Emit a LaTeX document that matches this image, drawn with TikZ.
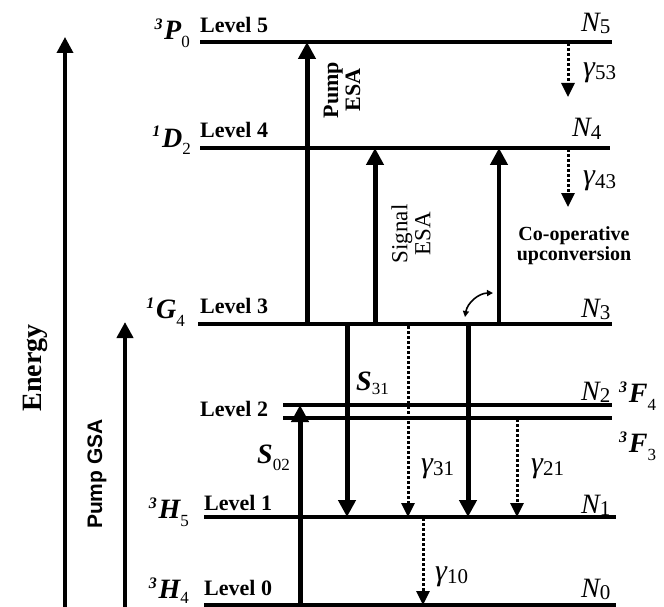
\documentclass[tikz,border=0pt]{standalone}
\usepackage{fontspec}
\setmainfont{Liberation Serif}
\newfontfamily\sansf{Liberation Sans}
\usetikzlibrary{arrows.meta}
\newcommand{\fs}[1]{\fontsize{#1}{#1}\selectfont}
\newcommand{\termsym}[4][-8pt]{{\fs{16}\bfseries\itshape\raisebox{10pt}{#2}}\,{\fs{28}\bfseries\itshape #3}{\fs{17}\raisebox{#1}{#4}}}
\newcommand{\Nlab}[1]{{\fs{28}\itshape N}{\fs{21}\raisebox{-2pt}{#1}}}
\newcommand{\glab}[1]{{\fs{30}\itshape γ}{\fs{21}\raisebox{-3pt}{#1}}}
\begin{document}
\begin{tikzpicture}[x=1pt,y=-1pt,
  lvl/.style={line width=3.5pt},
  thk/.style={line width=5pt,-{Triangle[length=17pt,width=17pt]}},
  dotarr/.style={line width=3pt,dash pattern=on 3pt off 2pt,-{Triangle[length=14pt,width=13pt]}},
  axis/.style={line width=3.5pt,-{Triangle[length=16pt,width=16pt]}},
  lvltxt/.style={font=\fs{22}\bfseries,inner sep=0pt,anchor=base west},
  rlab/.style={inner sep=0pt,anchor=base west},
  tlab/.style={inner sep=0pt,anchor=base east}]
\useasboundingbox (0,0) rectangle (664,607);
\fill[white] (0,0) rectangle (664,607);
% axes
\coordinate (eb) at (65,612);
\coordinate (et) at (65,37);
\draw[axis] (eb) -- (et);
\node[rotate=90,font=\fs{28}\bfseries] (energy) at (35,368) {Energy};
\coordinate (gb) at (125,612);
\coordinate (gt) at (125,322);
\draw[axis,line width=4.5pt] (gb) -- (gt);
\node[rotate=90,font=\fs{21}\sansf\bfseries] (pgsa) at (97,474) {Pump GSA};
% levels
\coordinate (l5a) at (200,42);  \coordinate (l5b) at (612,42);
\coordinate (l4a) at (200,148); \coordinate (l4b) at (610,148);
\coordinate (l3a) at (198,324); \coordinate (l3b) at (612,324);
\coordinate (l2a) at (283,405); \coordinate (l2b) at (612,405);
\coordinate (l2c) at (283,418); \coordinate (l2d) at (612,418);
\coordinate (l1a) at (204,517); \coordinate (l1b) at (616,517);
\coordinate (l0a) at (204,605); \coordinate (l0b) at (616,605);
\draw[lvl] (l5a) -- (l5b);
\draw[lvl] (l4a) -- (l4b);
\draw[lvl] (l3a) -- (l3b);
\draw[lvl] (l2a) -- (l2b);
\draw[lvl] (l2c) -- (l2d);
\draw[lvl] (l1a) -- (l1b);
\draw[lvl] (l0a) -- (l0b);
% level texts
\node[lvltxt] (t5) at (200,33) {Level 5};
\node[lvltxt] (t4) at (200,138) {Level 4};
\node[lvltxt] (t3) at (200,313) {Level 3};
\node[lvltxt] (t2) at (200,416) {Level 2};
\node[lvltxt] (t1) at (204,510) {Level 1};
\node[lvltxt] (t0) at (204,595) {Level 0};
% term symbols
\node[tlab] (p0) at (190,40) {\termsym{3}{P}{0}};
\node[tlab] (d2) at (191,147) {\termsym{1}{D}{2}};
\node[tlab] (g4) at (185,318) {\termsym{1}{G}{4}};
\node[tlab] (h5) at (189,518) {\termsym{3}{H}{5}};
\node[tlab] (h4) at (189,598) {\termsym[-5pt]{3}{H}{4}};
\node[tlab] (s02) at (290,463) {{\fs{28}\bfseries\itshape S}{\fs{17}\raisebox{-7pt}{02}}};
% right labels
\node[rlab] (n5) at (581,32) {\Nlab{5}};
\node[rlab] (n4) at (572,137) {\Nlab{4}};
\node[rlab] (n3) at (581,317) {\Nlab{3}};
\node[rlab] (n2) at (581,400) {\Nlab{2}};
\node[rlab] (n1) at (581,513) {\Nlab{1}};
\node[rlab] (n0) at (581,597) {\Nlab{0}};
\node[rlab] (f4) at (619,402) {\termsym{3}{F}{4}};
\node[rlab] (f3) at (619,452) {\termsym{3}{F}{3}};
% up arrows
\coordinate (pe0) at (307,324); \coordinate (pe1) at (307,42);
\draw[thk] (pe0) -- (pe1);
\node[rotate=90,font=\fs{22}\bfseries,align=center] (pesa) at (342,90) {Pump\\ESA};
\coordinate (se0) at (375,324); \coordinate (se1) at (375,148);
\draw[thk] (se0) -- (se1);
\node[rotate=90,font=\fs{23},align=center] (sesa) at (411,234) {Signal\\ESA};
\coordinate (cu0) at (499,324); \coordinate (cu1) at (499,148);
\draw[thk,line width=4.5pt] (cu0) -- (cu1);
\node[font=\fs{20}\bfseries,align=center] (coop) at (574,246) {Co-operative\\upconversion};
\coordinate (s020) at (300,605); \coordinate (s021) at (300,405);
\draw[thk] (s020) -- (s021);
% down arrows
\coordinate (s310) at (347,324); \coordinate (s311) at (347,517);
\draw[thk] (s310) -- (s311);
\node[rlab] (s31) at (356,390) {{\fs{28}\bfseries\itshape S}{\fs{17}\raisebox{-4pt}{31}}};
\coordinate (g310) at (408,326); \coordinate (g311) at (408,517);
\draw[dotarr] (g310) -- (g311);
\node[rlab] (g31l) at (421,472) {\glab{31}};
\coordinate (cd0) at (468,324); \coordinate (cd1) at (468,517);
\draw[thk] (cd0) -- (cd1);
\coordinate (g210) at (517,419); \coordinate (g211) at (517,517);
\draw[dotarr] (g210) -- (g211);
\node[rlab] (g21l) at (531,472) {\glab{21}};
\coordinate (g100) at (423,518); \coordinate (g101) at (423,605);
\draw[dotarr] (g100) -- (g101);
\node[rlab] (g10l) at (435,580) {\glab{10}};
\coordinate (g530) at (568,43); \coordinate (g531) at (568,97);
\draw[dotarr] (g530) -- (g531);
\node[rlab] (g53l) at (583,77) {\glab{53}};
\coordinate (g430) at (568,149); \coordinate (g431) at (568,207);
\draw[dotarr] (g430) -- (g431);
\node[rlab] (g43l) at (583,185) {\glab{43}};
% curved double arrow
\coordinate (ca0) at (465,317); \coordinate (ca1) at (493,293);
\draw[line width=1.6pt,{Triangle[length=6pt,width=6pt]}-{Triangle[length=6pt,width=6pt]}] (ca0) to[bend left=40] (ca1);
\end{tikzpicture}
\end{document}
